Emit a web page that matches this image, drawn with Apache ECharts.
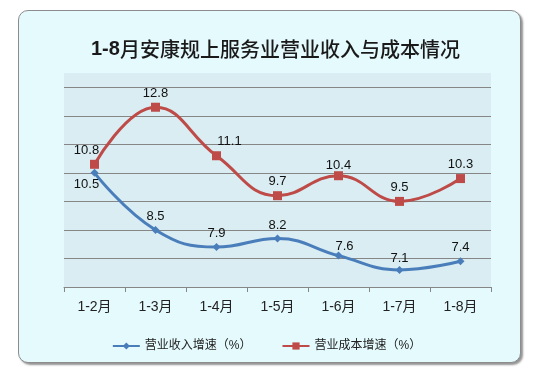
<!DOCTYPE html>
<html>
<head>
<meta charset="utf-8">
<script src="https://cdn.jsdelivr.net/npm/echarts@6/dist/echarts.min.js"></script>
<style>
html,body{margin:0;padding:0;background:#ffffff;}
#wrap{position:relative;width:533px;height:375px;}
#frame{position:absolute;left:18px;top:10px;width:501px;height:351px;border:1.5px solid #8c8c8c;border-radius:10px;background:#e5fafd;box-shadow:2px 2px 2px rgba(60,60,60,0.55);}
#chart{position:absolute;left:0;top:0;width:533px;height:375px;}
</style>
</head>
<body>
<div id="wrap"><div id="frame"></div><div id="chart"></div></div>
<script>
var titleNum = '1-8';
var titleRest = '月安康规上服务业营业收入与成本情况';
var categories = ['1-2月','1-3月','1-4月','1-5月','1-6月','1-7月','1-8月'];
var incomeName = '营业收入增速（%）';
var costName = '营业成本增速（%）';
var income = [10.5, 8.5, 7.9, 8.2, 7.6, 7.1, 7.4];
var cost = [10.8, 12.8, 11.1, 9.7, 10.4, 9.5, 10.3];
var yMin = 6.5, yMax = 14;

var font = '"Liberation Sans", "Noto Sans CJK SC", sans-serif';
var cjk = '"Noto Sans CJK SC", sans-serif';
var chart = echarts.init(document.getElementById('chart'), null, {renderer:'canvas'});

var incomeLabelCfg = [
  {position:'bottom', offset:[-8,-2]},
  {}, {}, {}, {offset:[6,4]}, {offset:[0,2]}, {}
];
var costLabelCfg = [
  {offset:[-8,0]}, {}, {offset:[13,0]}, {}, {offset:[0,4]}, {}, {}
];

function buildData(vals, cfg){
  return vals.map(function(v,i){
    var o = {value:v};
    if (cfg[i] && Object.keys(cfg[i]).length) o.label = cfg[i];
    return o;
  });
}

chart.setOption({
  backgroundColor: 'transparent',
  animation: false,
  title: {
    text: '{a|' + titleNum + '}{b|' + titleRest + '}',
    left: 86, top: 34,
    textStyle: {
      rich: {
        a: {fontSize: 20, fontWeight: 'bold', color: '#1a1a1a', fontFamily: '"Liberation Sans", sans-serif'},
        b: {fontSize: 20, fontWeight: 500, color: '#1a1a1a', fontFamily: cjk}
      }
    }
  },
  grid: {
    left: 64, top: 73, right: 42, bottom: 88,
    show: true, backgroundColor: '#d9edf2', borderWidth: 0
  },
  legend: {
    top: 335, left: 'center',
    itemWidth: 27, itemHeight: 9, itemGap: 30,
    textStyle: {fontSize: 12, color: '#222', fontFamily: font},
    data: [incomeName, costName]
  },
  xAxis: {
    type: 'category', data: categories, boundaryGap: true,
    axisLine: {lineStyle: {color: '#868686', width: 1}},
    axisTick: {show: true, length: 5, lineStyle: {color: '#868686'}},
    axisLabel: {fontSize: 14, color: '#222', margin: 13, fontFamily: font}
  },
  yAxis: [
    {type: 'value', min: yMin, max: yMax, show: true,
     axisLine:{show:false}, axisTick:{show:false}, axisLabel:{show:false}, splitLine:{show:false}},
    {type: 'value', min: 0, max: yMax - yMin, interval: 1, show: true,
     axisLine:{show:false}, axisTick:{show:false}, axisLabel:{show:false},
     splitLine:{show:true, showMinLine:false, showMaxLine:false, lineStyle:{color:'#868686', width:1}}}
  ],
  series: [
    {
      name: incomeName, type: 'line', yAxisIndex: 0, smooth: 0.45,
      data: buildData(income, incomeLabelCfg),
      symbol: 'diamond', symbolSize: 8,
      lineStyle: {color: '#4a7ebb', width: 3},
      itemStyle: {color: '#4a7ebb'},
      label: {show: true, position: 'top', distance: 3, fontSize: 13, color: '#111', fontFamily: font},
      z: 3
    },
    {
      name: costName, type: 'line', yAxisIndex: 0, smooth: 0.45,
      data: buildData(cost, costLabelCfg),
      symbol: 'rect', symbolSize: 9,
      lineStyle: {color: '#be4b48', width: 3},
      itemStyle: {color: '#be4b48'},
      label: {show: true, position: 'top', distance: 3, fontSize: 13, color: '#111', fontFamily: font},
      z: 4
    }
  ]
});
</script>
</body>
</html>
